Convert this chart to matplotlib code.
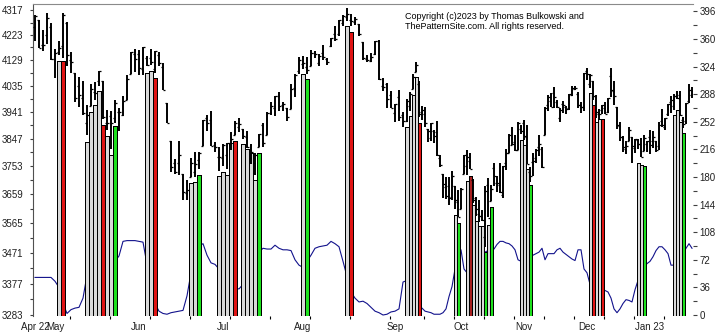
import numpy as np
import matplotlib
matplotlib.use('Agg')
import matplotlib.pyplot as plt
from matplotlib.ticker import FixedLocator, FixedFormatter, NullFormatter

plt.rcParams['font.family'] = ['Liberation Sans', 'DejaVu Sans']

# ---------------- data (daily bars, index = trading day from Apr 25 2022) ----
opens = [4255,4279,4186,4222,4253,4131,4159,4181,4270,4129,4081,4035,3990,3903,3963,4013,4052,4052,3900,3927,
         3920,3942,3929,3984,4078,4151,4150,4096,4137,4135,4097,4148,4102,3974,3838,3763,3764,3728,3665,3715,
         3734,3774,3821,3920,3913,3826,3785,3782,3792,3831,3859,3889,3880,3851,3779,3764,3819,3895,3860,3935,
         3955,3998,3965,3954,3951,4026,4088,4113,4104,4107,4154,4116,4155,4133,4182,4228,4225,4269,4290,4281,
         4273,4266,4195,4134,4126,4153,4199,4034,4041,4000,3937,3995,3930,3910,3960,4022,4084,4042,3940,3932,
         3880,3849,3875,3871,3782,3727,3682,3686,3651,3687,3633,3610,3726,3753,3771,3706,3647,3594,3590,3520,
         3690,3638,3746,3696,3689,3657,3762,3799,3826,3834,3808,3882,3902,3853,3733,3766,3780,3818,3810,3859,
         3964,3978,4007,3976,3920,3967,3957,3954,4000,4024,4005,3964,3957,4087,4041,4053,3996,3934,3947,3954,
         3939,4069,4016,3958,3891,3853,3810,3839,3853,3815,3843,3829,3805,3829,3853,3840,3839,3823,3910,3888,
         3932,3977,3960,3999,4002,3911,3910,3978,4001]
highs = [4299,4279,4240,4308,4270,4170,4201,4308,4271,4157,4081,4068,4050,3964,4039,4047,4090,4052,3946,3944,
         3982,3955,3999,4075,4158,4169,4167,4177,4143,4169,4164,4160,4119,3974,3839,3778,3838,3728,3707,3779,
         3801,3802,3913,3928,3945,3836,3818,3829,3832,3870,3910,3918,3880,3874,3829,3796,3863,3902,3939,3975,
         3999,4013,3975,3954,4039,4078,4140,4144,4141,4167,4161,4151,4186,4138,4211,4258,4280,4301,4325,4303,
         4292,4266,4195,4149,4156,4200,4203,4062,4044,4016,3970,4019,3942,3987,4010,4076,4120,4050,3961,3959,
         3880,3900,3877,3907,3790,3727,3716,3717,3736,3687,3672,3679,3791,3807,3798,3711,3652,3640,3608,3685,
         3712,3689,3762,3719,3762,3752,3810,3862,3886,3859,3905,3893,3911,3894,3750,3796,3813,3859,3818,3958,
         4001,4008,4028,3983,3955,3979,3962,4003,4034,4035,4013,3976,4080,4101,4076,4053,4001,3952,3966,3977,
         3991,4101,4053,3958,3906,3855,3838,3889,3853,3845,3846,3849,3858,3839,3878,3874,3839,3906,3951,3919,
         3970,3998,4003,4015,4015,3922,3973,4039,4028]
lows = [4200,4175,4162,4188,4128,4062,4147,4136,4106,4081,3975,3958,3928,3859,3963,3983,4034,3914,3876,3810,
        3900,3875,3925,3984,4078,4083,4074,4074,4107,4110,4080,4107,4018,3900,3735,3725,3723,3640,3639,3715,
        3717,3743,3821,3873,3820,3800,3738,3752,3742,3809,3859,3869,3847,3814,3761,3722,3818,3819,3860,3930,
        3927,3944,3944,3910,3951,3993,4079,4097,4079,4107,4135,4107,4128,4112,4177,4201,4219,4256,4277,4256,
        4262,4218,4129,4123,4120,4147,4057,4017,3954,3954,3904,3907,3886,3906,3944,4022,4084,3921,3913,3888,
        3837,3839,3831,3789,3750,3648,3644,3623,3641,3610,3585,3610,3726,3723,3745,3632,3588,3568,3573,3491,
        3584,3638,3686,3666,3664,3647,3741,3799,3825,3803,3808,3863,3843,3759,3699,3721,3764,3789,3748,3859,
        3944,3957,3953,3955,3906,3935,3933,3947,3999,4020,3956,3937,3944,4057,4027,3984,3918,3916,3933,3933,
        3937,3994,3965,3879,3838,3800,3795,3839,3764,3798,3813,3783,3805,3800,3794,3816,3802,3809,3887,3877,
        3925,3937,3947,3985,3925,3885,3898,3972,3990]
closes = [4296,4175,4183,4287,4132,4155,4175,4300,4147,4123,3991,4001,3935,3930,4024,4008,4089,3923,3901,3901,
          3974,3941,3979,4058,4158,4132,4101,4177,4109,4121,4161,4116,4018,3901,3750,3735,3790,3667,3675,3765,
          3760,3796,3912,3900,3821,3819,3785,3825,3831,3845,3903,3899,3855,3819,3801,3791,3863,3831,3937,3960,
          3999,3962,3967,3921,4024,4072,4130,4119,4091,4155,4152,4145,4140,4122,4210,4207,4280,4297,4305,4275,
          4284,4228,4138,4128,4141,4200,4058,4031,3986,3955,3967,3924,3908,3980,4006,4067,4110,3933,3946,3901,
          3873,3900,3856,3790,3758,3693,3655,3647,3719,3640,3586,3678,3791,3783,3745,3640,3612,3589,3577,3669,
          3583,3677,3720,3695,3666,3752,3797,3859,3830,3807,3901,3872,3856,3760,3719,3771,3807,3828,3749,3956,
          3993,3957,3992,3959,3947,3965,3950,4003,4027,4026,3964,3958,4080,4077,4072,3999,3941,3933,3964,3934,
          3991,4019,3996,3895,3852,3817,3821,3878,3822,3845,3829,3783,3849,3840,3824,3853,3808,3895,3893,3919,
          3970,3983,3999,3991,3928,3899,3973,4020,4017]

# indicator values (right scale), one per trading day
indicator = [49,49,49,49,49,44,36,15,2,7,9,10,22,52,58,62,65,67,68,69,
             70,77,96,97,97,97,96,95,66,40,15,5,2,1,3,4,5,6,25,55,
             75,90,93,78,68,66,60,52,44,38,35,34,40,50,60,72,82,87,86,86,
             91,87,85,85,84,72,65,62,70,78,87,89,90,91,96,93,89,70,50,30,
             22,17,18,15,10,5,3,0,1,4,5,8,43,45,35,25,15,10,9,5,
             4,3,1,1,1,3,8,24,37,60,85,85,60,55,60,65,70,75,80,82,
             84,85,86,92,96,96,94,93,90,85,72,70,72,75,77,78,80,82,87,72,
             80,80,80,85,87,82,79,76,73,71,85,85,60,55,40,28,30,32,33,32,
             30,22,8,3,8,15,20,19,17,33,45,55,62,67,70,76,84,89,89,85,
             80,65,65,70,75,80,87,93,87]

# highlighted days: index, top level (price scale), kind
sig_idx = [6,7, 13,14,15,16,17,18,19,20, 28,29,30, 39,40,41,
           46,47,48,49,50,52,53,54,55,56, 67,68, 78,79, 93,94,95,96,97,
           109,110, 113,114,115,116,117,118,119,120,121, 131,132,133,134,
           154,155,156,157,158, 170,171,172, 182,183,184,185]
sig_top = [4126,4126, 3837,3942,3965,4017,3895,3857,3791,3891, 4080,4088,4062, 3696,3699,3724,
           3720,3732,3724,3831,3839,3829,3811,3797,3707,3797, 4078,4058, 4257,4235, 3889,3926,4001,4065,3902,
           3592,3565, 3704,3720,3624,3573,3557,3557,3475,3560,3619, 3842,3825,3744,3690,
           4007,3965,3906,3915,3915, 3763,3757,3754, 3930,3947,3906,3868]
sig_kind = ['g','r', 'g','g','g','g','r','g','g','G', 'g','g','r', 'g','g','G',
            'g','g','g','g','r','g','g','g','g','G', 'g','G', 'g','r', 'g','g','g','g','r',
            'g','G', 'g','R','g','g','g','g','G','g','G', 'g','g','g','G',
            'g','r','g','g','r', 'g','g','G', 'g','g','g','G']

month_idx = [0, 5, 26, 47, 67, 90, 111, 132, 153, 174]
month_lbl = ['Apr 22', 'May', 'Jun', 'Jul', 'Aug', 'Sep', 'Oct', 'Nov', 'Dec', 'Jan 23']

price_ticks = [3283, 3377, 3471, 3565, 3659, 3753, 3847, 3941, 4035, 4129, 4223, 4317]
ind_ticks = [0, 36, 72, 108, 144, 180, 216, 252, 288, 324, 360, 396]

n = len(opens)
assert len(highs) == n and len(lows) == n and len(closes) == n and len(indicator) == n
assert len(sig_idx) == len(sig_top) == len(sig_kind)
idx = np.arange(n)

# ---------------- figure ----------------
fig = plt.figure(figsize=(7.25, 3.34), dpi=100)
ax = fig.add_axes([33/725, 18/334, 660/725, 312/334])   # indicator axis (right scale)
ax2 = ax.twinx()                                       # price axis (left scale)


def fwd(i):
    i = np.asarray(i, dtype=float)
    return np.where(i <= 93, 4.0 * i, 372.0 + 3.0 * (i - 93))


def inv(u):
    u = np.asarray(u, dtype=float)
    return np.where(u <= 372, u / 4.0, 93.0 + (u - 372.0) / 3.0)


ax.set_xscale('function', functions=(fwd, inv))
ax.set_xlim(-0.5, 188.33)

# indicator line
ax.plot(idx, indicator, color='#12128c', lw=0.8, zorder=2)
ax.set_ylim(-1.3, 405.5)

# price axis (log)
ax2.set_yscale('log')
ax2.set_ylim(3280, 4342)

colmap = {'g': '#d9d9d9', 'r': '#e01414', 'R': '#a82020', 'G': '#1ee01e'}
base = 3280
ax2.bar(sig_idx, np.array(sig_top) - base, bottom=base, width=1.0,
        color=[colmap[k] for k in sig_kind], edgecolor='black', linewidth=0.7,
        antialiased=False, zorder=3)

ax2.vlines(idx, lows, highs, color='black', lw=1.4, zorder=4)
ax2.hlines(opens, idx - 0.6, idx, color='black', lw=0.9, zorder=4)
ax2.hlines(closes, idx, idx + 0.6, color='black', lw=0.9, zorder=4)

# spines
for a in (ax, ax2):
    for s in a.spines.values():
        s.set_visible(False)
ax2.spines['left'].set_visible(True)
ax2.spines['left'].set_color('#505050')
ax2.spines['left'].set_linewidth(0.8)
ax2.spines['top'].set_visible(True)
ax2.spines['top'].set_color('#8a8a8a')
ax2.spines['top'].set_linewidth(0.8)

# left price ticks
ax2.yaxis.tick_left()
ax2.yaxis.set_major_locator(FixedLocator(price_ticks))
ax2.yaxis.set_major_formatter(FixedFormatter([str(v) for v in price_ticks]))
mids = [(a + b) / 2 for a, b in zip(price_ticks[:-1], price_ticks[1:])]
ax2.yaxis.set_minor_locator(FixedLocator(mids))
ax2.yaxis.set_minor_formatter(NullFormatter())
ax2.tick_params(axis='y', which='both', direction='out', length=2, width=0.8,
                color='#404040', labelsize=7, pad=5, labelcolor='#202020')

# right indicator ticks
ax.yaxis.tick_right()
ax.yaxis.set_major_locator(FixedLocator(ind_ticks))
ax.yaxis.set_major_formatter(FixedFormatter([str(v) for v in ind_ticks]))
imids = [v + 18 for v in ind_ticks[:-1]]
ax.yaxis.set_minor_locator(FixedLocator(imids))
ax.yaxis.set_minor_formatter(NullFormatter())
ax.tick_params(axis='y', which='both', direction='out', length=3, width=0.8,
               color='#404040', labelsize=7, pad=1.5, labelcolor='#202020')

# x axis
ax.xaxis.set_major_locator(FixedLocator(month_idx))
ax.xaxis.set_major_formatter(FixedFormatter(month_lbl))
ax.xaxis.set_minor_locator(FixedLocator(np.arange(8.75, 188, 10)))
ax.xaxis.set_minor_formatter(NullFormatter())
ax.tick_params(axis='x', which='major', length=0, labelsize=7, pad=4, labelcolor='#202020')
ax.tick_params(axis='x', which='minor', direction='out', length=2, width=0.8, color='black')

ax2.text(0.5636, 0.975, "Copyright (c)2023 by Thomas Bulkowski and\nThePatternSite.com. All rights reserved.",
         transform=ax2.transAxes, fontsize=6.5, va='top', ha='left', linespacing=1.15, zorder=5)

fig.savefig('out.png', dpi=100)
